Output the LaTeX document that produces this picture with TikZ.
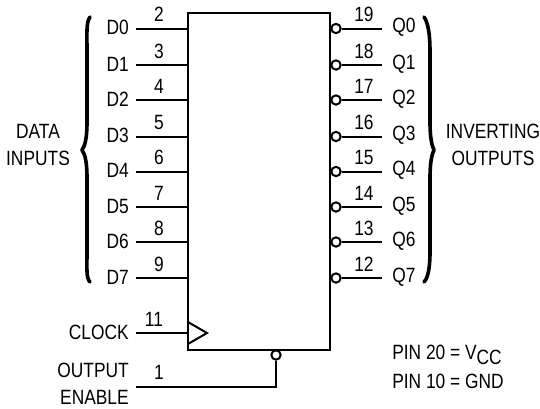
\documentclass[tikz,border=0pt]{standalone}
\usepackage{fontspec}
\setmainfont{Liberation Sans}[FakeStretch=0.84]
\usepackage{tikz}
\usetikzlibrary{calc}
\usetikzlibrary{positioning}
\tikzset{
  wire/.style={line width=1.5pt},
  txt/.style={inner sep=0pt,font=\fontsize{15.5pt}{17pt}\selectfont},
  brace/.style={line width=2.7pt,line cap=round,line join=round},
  bubble/.style={circle,draw,line width=1.5pt,fill=white,inner sep=0pt,minimum size=7pt}
}
\begin{document}
\begin{tikzpicture}[x=0.75pt,y=-0.75pt]
  \useasboundingbox (0,0) rectangle (540,408);
  \node (ic) [draw,line width=1.5pt,minimum width=106.5pt,minimum height=252.75pt,inner sep=0pt] at (259,181) {};
  % inputs and outputs
  \foreach \i/\a/\b/\y in {0/2/19/28.5,1/3/18/65,2/4/17/100,3/5/16/136.5,4/6/15/171.5,5/7/14/207,6/8/13/242,7/9/12/278} {
    \node (D\i) [txt,anchor=east] at (129,\y-1) {D\i};
    \node (Q\i) [txt,anchor=west] at (392,\y-1) {Q\i};
    \coordinate (Dp\i) at (136,\y);
    \coordinate (Qp\i) at (382,\y);
    \draw[wire] (Dp\i) -- (Dp\i -| ic.west);
    \node (Qb\i) [bubble] at (336,\y) {};
    \draw[wire] (Qb\i.east) -- (Qp\i);
    \node (Da\i) [txt] at (159,\y-14) {\a};
    \node (Qa\i) [txt] at (364,\y-14) {\b};
  }
  % braces
  \draw[brace] (90,17) .. controls (86,22) and (87,35) .. (87,50) -- (87,122) .. controls (87,138) and (85,146) .. (82,150) .. controls (85,154) and (87,162) .. (87,178) -- (87,252) .. controls (87,268) and (86,278) .. (90,282);
  \draw[brace] (424,17) .. controls (428,22) and (430,35) .. (430,50) -- (430,122) .. controls (430,138) and (432,146) .. (434,150) .. controls (432,154) and (430,162) .. (430,178) -- (430,252) .. controls (430,268) and (428,278) .. (424,282);
  \node (data) [txt] at (38,131) {DATA};
  \node (inputs) [txt] at (38,158) {INPUTS};
  \node (inverting) [txt] at (493,131) {INVERTING};
  \node (outputs) [txt] at (493,158) {OUTPUTS};
  % clock
  \node (clock) [txt,anchor=east] at (129,332) {CLOCK};
  \node (n11) [txt] at (154,319) {11};
  \coordinate (clk) at (136,333);
  \draw[wire] (clk) -- (clk -| ic.west);
  \coordinate (t1) at (188,322);
  \coordinate (t2) at (207,333);
  \coordinate (t3) at (188,344);
  \draw[wire,line join=miter] (t1) -- (t2) -- (t3);
  % output enable
  \node (oe1) [txt,anchor=east] at (129,370) {OUTPUT};
  \node (oe2) [txt,anchor=east] at (129,397) {ENABLE};
  \node (n1) [txt] at (159,372) {1};
  \coordinate (oe) at (136,387);
  \node (oeb) [bubble] at (276,355) {};
  \draw[wire] (oe) -| (oeb.south);
  % supply pins
  \node (vcc) [txt,anchor=west] at (392,355) {PIN 20 = V\raisebox{-3.5pt}{CC}};
  \node (gnd) [txt,anchor=west] at (392,381) {PIN 10 = GND};
\end{tikzpicture}
\end{document}
